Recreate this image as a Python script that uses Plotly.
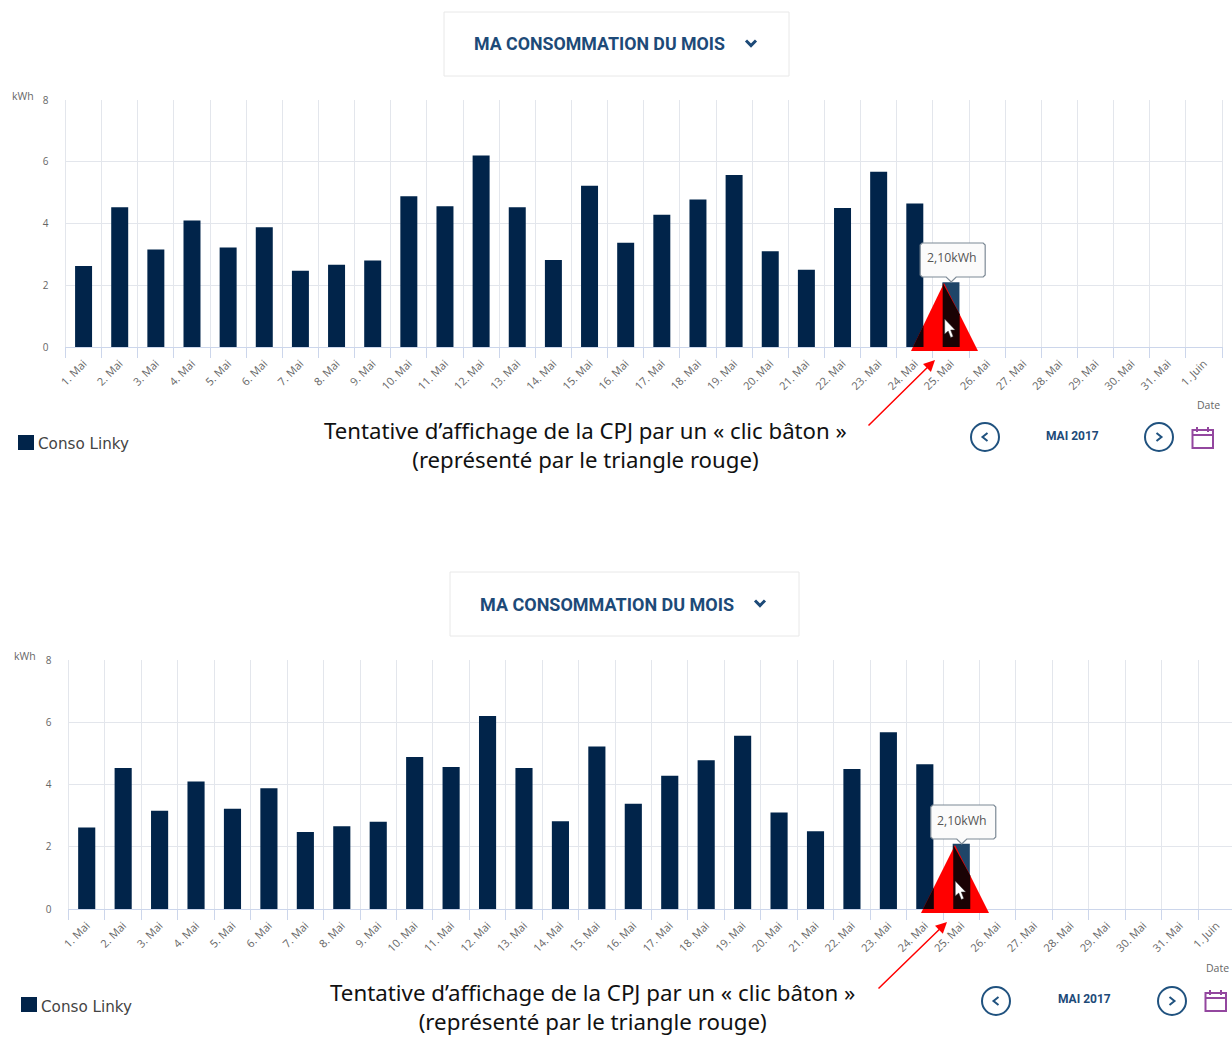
import plotly.graph_objects as go

W, H = 1232, 1037
days = [f"{i}. Mai" for i in range(1, 32)] + ["1. Juin"]
values = [2.62, 4.53, 3.16, 4.10, 3.22, 3.88, 2.47, 2.66, 2.80, 4.88, 4.56, 6.20, 4.53,
          2.82, 5.22, 3.38, 4.28, 4.78, 5.57, 3.10, 2.50, 4.50, 5.68, 4.65, 2.10]
yticks = [0, 2, 4, 6, 8]
series_name = "Conso Linky"
caption = "Tentative d’affichage de la CPJ par un « clic bâton »<br>(représenté par le triangle rouge)"
BAR = "#01244a"
HOVER = "#1f4568"
bar_colors = [BAR] * 24 + [HOVER]
GRAY = "#666666"
NAVY = "#1d4a78"


def fx(x):
    return x / W


def fy(y):
    return 1 - y / H


def P(points):
    return "M " + " L ".join(f"{fx(x):.5f},{fy(y):.5f}" for x, y in points) + " Z"


def L(points):
    return "M " + " L ".join(f"{fx(x):.5f},{fy(y):.5f}" for x, y in points)


panels = [
    dict(left=65.5, right=1222, cell=36.15, top=100, bottom=347, rng=[-0.5, 31.5],
         box=(444, 12, 789, 76), head_x=472, head_y=44, chev=(751, 43), hsize=17.8, capsize=22.2,
         kwh=(23, 96), date=(1222, 405), leg=(18, 435), leg_tx=36, leg_ty=444,
         cap=(585, 445), arrow=((867, 427), (935, 360)),
         prev=(985, 437), nxt=(1159, 437), month=(1072, 436), cal=(1192, 427),
         tri=((944, 283), (911, 351), (978, 351))),
    dict(left=68.5, right=1232, cell=36.46, top=660, bottom=909, rng=[-0.5, 31.43],
         box=(450, 572, 799, 636), head_x=478, head_y=604, chev=(760, 603), hsize=18, capsize=22.3,
         kwh=(25, 656), date=(1231, 968), leg=(21, 997), leg_tx=39, leg_ty=1007,
         cap=(592, 1006.5), arrow=((877, 990), (947, 922)),
         prev=(996, 1001), nxt=(1172, 1001), month=(1084, 999), cal=(1205, 990),
         tri=((955, 845), (921, 913), (989, 913))),
]

fig = go.Figure()
shapes, annos = [], []


def text(x, y, s, size, color, anchor="center", family="Open Sans", bold=False):
    annos.append(dict(xref="paper", yref="paper", x=fx(x), y=fy(y), text=f"<b>{s}</b>" if bold else s,
                      showarrow=False, xanchor=anchor, yanchor="middle",
                      font=dict(size=size, color=color, family=family)))


def circle_btn(cx, cy, direction):
    r = 14
    shapes.append(dict(type="circle", xref="paper", yref="paper", x0=fx(cx - r), x1=fx(cx + r),
                       y0=fy(cy + r), y1=fy(cy - r), line=dict(color="#20527f", width=2), fillcolor="white"))
    d = 2.5 * direction
    shapes.append(dict(type="path", xref="paper", yref="paper",
                       path=L([(cx - d, cy - 4), (cx + d, cy), (cx - d, cy + 4)]),
                       line=dict(color="#20527f", width=2)))


for i, p in enumerate(panels):
    suffix = "" if i == 0 else str(i + 1)
    fig.add_trace(go.Bar(x=days[:len(values)], y=values, name=series_name, marker_color=bar_colors,
                         marker_line_width=0, width=0.47, showlegend=False,
                         xaxis="x" + suffix, yaxis="y" + suffix,
                         hovertemplate="%{y:.2f}kWh<extra></extra>"))
    ax = dict(domain=[fx(p["left"]), fx(p["right"])], range=p["rng"], type="category",
              categoryorder="array", categoryarray=days, tickmode="array", tickvals=days, ticktext=days,
              tickson="boundaries", ticks="outside", ticklen=10, tickcolor="#ccd6eb", ticklabelstandoff=5,
              showgrid=True, gridcolor="#e3e6ec", gridwidth=1.2, showline=True, linecolor="#ccd6eb",
              tickangle=-45, tickfont=dict(size=11, color=GRAY, family="Open Sans"),
              anchor="y" + suffix, fixedrange=True)
    ay = dict(domain=[fy(p["bottom"]), fy(p["top"])], range=[0, 8], tickvals=yticks,
              showgrid=True, gridcolor="#e3e6ec", gridwidth=1.2, zeroline=False, ticks="", ticklabelstandoff=14,
              showline=True, linecolor="#e3e6ec", linewidth=1.2, mirror=True,
              tickfont=dict(size=10, color=GRAY, family="Open Sans"), anchor="x" + suffix, fixedrange=True)
    fig.layout["xaxis" + suffix] = ax
    fig.layout["yaxis" + suffix] = ay

    # header box
    x0, y0, x1, y1 = p["box"]
    shapes.append(dict(type="rect", xref="paper", yref="paper", x0=fx(x0), x1=fx(x1), y0=fy(y1), y1=fy(y0),
                       line=dict(color="#e8e8e8", width=1), fillcolor="white"))
    text(p["head_x"], p["head_y"], "MA CONSOMMATION DU MOIS", p["hsize"], NAVY, "left", "Roboto", True)
    cx, cy = p["chev"]
    shapes.append(dict(type="path", xref="paper", yref="paper",
                       path=L([(cx - 5, cy - 2.5), (cx, cy + 2.5), (cx + 5, cy - 2.5)]),
                       line=dict(color=NAVY, width=3)))

    # red triangle with darkened overlaps
    cell, left, bottom = p["cell"], p["left"], p["bottom"]
    apex, tl, tr = p["tri"]
    shapes.append(dict(type="path", xref="paper", yref="paper", path=P([apex, tl, tr]),
                       fillcolor="#ff0000", line_width=0))
    b25l, b25r = left + 24.5 * cell - 8.5, left + 24.5 * cell + 8.5
    b24r = left + 23.5 * cell + 8.5
    yr = apex[1] + (b25r - apex[0]) / (tr[0] - apex[0]) * (tr[1] - apex[1])
    shapes.append(dict(type="path", xref="paper", yref="paper",
                       path=P([(b25l, apex[1]), (b25r, yr), (b25r, bottom), (b25l, bottom)]),
                       fillcolor="#1a0204", line_width=0))
    yl = apex[1] + (apex[0] - b24r) / (apex[0] - tl[0]) * (tl[1] - apex[1])
    xb = apex[0] - (bottom - apex[1]) / (tl[1] - apex[1]) * (apex[0] - tl[0])
    shapes.append(dict(type="path", xref="paper", yref="paper",
                       path=P([(b24r, yl), (b24r, bottom), (xb, bottom)]),
                       fillcolor="#140208", line_width=0))

    # cursor
    tipx, tipy = b25l + 2, apex[1] + 36
    shapes.append(dict(type="path", xref="paper", yref="paper",
                       path=P([(tipx + a, tipy + b) for a, b in
                               [(0, 0), (0, 15), (3.5, 12), (6, 18.5), (8.5, 17.5), (6, 11), (10.5, 11)]]),
                       fillcolor="white", line=dict(color="#333333", width=0.5)))

    # tooltip
    tc = (b25l + b25r) / 2
    tx0, tx1 = tc - 31, tc + 34
    ty0, ty1 = apex[1] - 40, apex[1] - 6
    shapes.append(dict(type="path", xref="paper", yref="paper",
                       path=P([(tx0 + 2, ty0), (tx1 - 2, ty0), (tx1, ty0 + 2), (tx1, ty1 - 2), (tx1 - 2, ty1),
                               (tc + 5, ty1), (tc, ty1 + 5), (tc - 5, ty1), (tx0 + 2, ty1), (tx0, ty1 - 2),
                               (tx0, ty0 + 2)]),
                       fillcolor="#fbfbfb", line=dict(color="#7d8a96", width=1.2)))
    text((tx0 + tx1) / 2 - 1, (ty0 + ty1) / 2 - 2, "2,10kWh", 12.3, "#555555")

    # axis titles
    text(*p["kwh"], "kWh", 10.5, GRAY)
    text(*p["date"], "Date", 10.5, GRAY, "right")

    # legend
    lx, ly = p["leg"]
    shapes.append(dict(type="rect", xref="paper", yref="paper", x0=fx(lx), x1=fx(lx + 16), y0=fy(ly + 15), y1=fy(ly),
                       fillcolor=BAR, line_width=0))
    text(p["leg_tx"], p["leg_ty"], series_name, 15.2, "#444444", "left", "DejaVu Sans")

    # caption
    text(*p["cap"], caption, p["capsize"], "#111111", "center", "Noto Sans")
    (ax0, ay0), (ax1, ay1) = p["arrow"]
    annos.append(dict(xref="paper", yref="paper", x=fx(ax1), y=fy(ay1), ax=ax0 - ax1, ay=ay0 - ay1,
                      axref="pixel", ayref="pixel", showarrow=True, arrowhead=2, arrowsize=1.5,
                      arrowwidth=1.5, arrowcolor="#ff0000", text=""))

    # navigation
    circle_btn(*p["prev"], -1)
    circle_btn(*p["nxt"], 1)
    text(*p["month"], "MAI 2017", 12, NAVY, "center", "Roboto", True)
    c0, c1 = p["cal"]
    PUR = "#93479f"
    shapes.append(dict(type="rect", xref="paper", yref="paper", x0=fx(c0 + 0.5), x1=fx(c0 + 21), y0=fy(c1 + 21),
                       y1=fy(c1 + 3), line=dict(color=PUR, width=2), fillcolor="rgba(0,0,0,0)"))
    shapes.append(dict(type="path", xref="paper", yref="paper",
                       path=L([(c0 + 0.5, c1 + 8), (c0 + 21, c1 + 8)]), line=dict(color=PUR, width=2)))
    for dx in (5, 16):
        shapes.append(dict(type="path", xref="paper", yref="paper",
                           path=L([(c0 + dx, c1), (c0 + dx, c1 + 5)]), line=dict(color=PUR, width=2)))

fig.update_layout(width=W, height=H, margin=dict(l=0, r=0, t=0, b=0, autoexpand=False), paper_bgcolor="white",
                  plot_bgcolor="white", shapes=shapes, annotations=annos, bargap=0.5, showlegend=False,
                  hovermode=False)
fig.write_html("out.html", config=dict(displayModeBar=False), post_script="document.body.style.margin='0';")
